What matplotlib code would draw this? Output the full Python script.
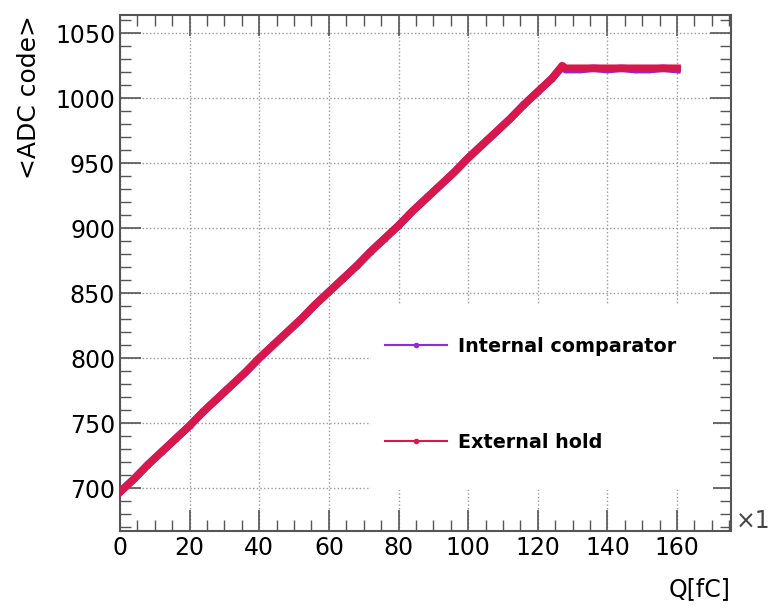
import matplotlib.pyplot as plt
from matplotlib.patches import Rectangle
from matplotlib.ticker import MultipleLocator

# charge scan (fC) and mean ADC code
q = [0, 4, 8, 12, 16, 20, 24, 28, 32, 36, 40, 44, 48, 52, 56, 60, 64, 68, 72, 76,
     80, 84, 88, 92, 96, 100, 104, 108, 112, 116, 120, 124, 127, 128, 132, 136,
     140, 144, 148, 152, 156, 160]
adc_internal = [697, 707, 718, 728, 738, 748, 759, 769, 779, 789, 800, 810, 820,
                830, 841, 851, 861, 871, 882, 892, 902, 913, 923, 933, 943, 954,
                964, 974, 984, 995, 1005, 1015, 1024, 1022, 1022, 1023, 1022, 1023,
                1022, 1022, 1023, 1022]
adc_external = [697, 707, 718, 728, 738, 748, 759, 769, 779, 789, 800, 810, 820,
                830, 841, 851, 861, 871, 882, 892, 902, 913, 923, 933, 943, 954,
                964, 974, 984, 995, 1005, 1015, 1025, 1023, 1023, 1023, 1023, 1023,
                1023, 1023, 1023, 1023]

plt.rcParams['font.family'] = 'DejaVu Sans'
fig = plt.figure(figsize=(7.69, 6.11), dpi=100)
ax = fig.add_axes([120 / 769, 80 / 611, 611 / 769, 516 / 611])
ax.set_axisbelow(True)

ax.plot(q, adc_internal, color='#8a2be2', lw=5.5, marker='o', ms=3,
        label='Internal comparator', zorder=3)
ax.plot(q, adc_external, color='#d8174a', lw=5.5, marker='o', ms=3,
        label='External hold', zorder=3)

ax.set_xlim(0, 175.5)
ax.set_ylim(667, 1064)
ax.xaxis.set_major_locator(MultipleLocator(20))
ax.xaxis.set_minor_locator(MultipleLocator(5))
ax.yaxis.set_major_locator(MultipleLocator(50))
ax.yaxis.set_minor_locator(MultipleLocator(10))
ax.tick_params(which='both', direction='in', top=True, right=True,
               color='#555555', labelsize=17)
ax.tick_params(which='major', length=15, width=1.2)
ax.tick_params(which='minor', length=8, width=1)
ax.grid(which='major', color='#999999', ls=':', lw=1)
for s in ax.spines.values():
    s.set_color('#555555')
    s.set_linewidth(1.5)

ax.set_xlabel('Q[fC]', fontsize=17, loc='right')
ax.set_ylabel('<ADC code>', fontsize=18, loc='top')
ax.xaxis.set_label_coords(1.0, -0.09)
ax.yaxis.set_label_coords(-0.13, 1.0)
ax.text(1.008, 0.02, '×1', transform=ax.transAxes, fontsize=17,
        color='#444444', va='center')

# white legend pad that hides the grid behind it
ax.add_patch(Rectangle((0.41, 0.08), 0.56, 0.36, transform=ax.transAxes,
                       facecolor='white', edgecolor='none', zorder=1))
leg = ax.legend(loc='upper left', bbox_to_anchor=(0.434, 0.376), frameon=False,
                borderpad=0, borderaxespad=0, labelspacing=4.0,
                handlelength=3.2, handletextpad=0.6,
                prop={'weight': 'bold', 'size': 13.8})
for h in leg.legend_handles:
    h.set_linewidth(1.5)

fig.savefig('out.png', dpi=100)
